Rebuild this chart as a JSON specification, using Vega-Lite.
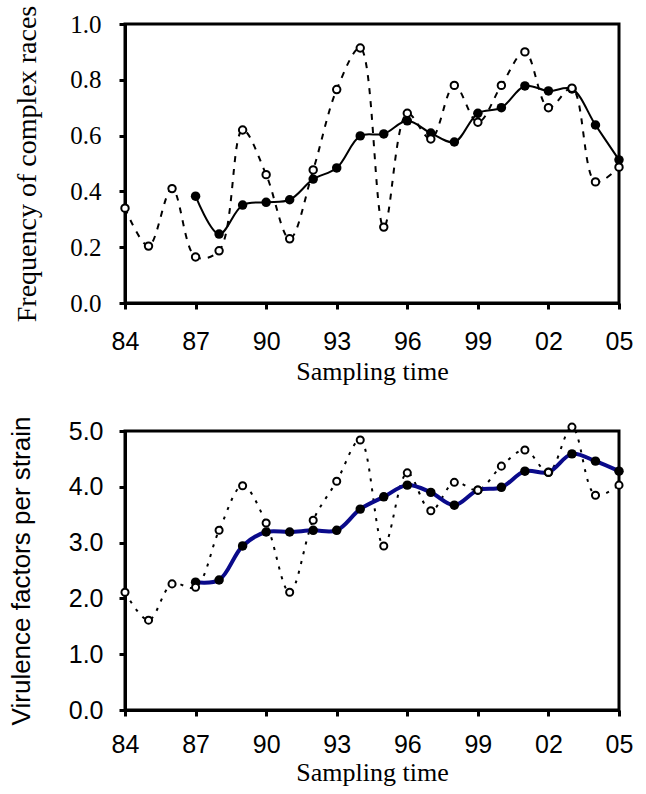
{
  "$schema": "https://vega.github.io/schema/vega-lite/v6.json",
  "padding": {"left": 6, "top": 3, "right": 5, "bottom": 5},
  "spacing": 28,
  "background": "white",
  "config": {
    "view": {"stroke": "black", "strokeWidth": 3},
    "axis": {
      "grid": false,
      "domainColor": "black",
      "domainWidth": 3,
      "tickColor": "black",
      "tickWidth": 3,
      "tickSize": 6,
      "labelColor": "black",
      "titleColor": "black",
      "labelFontSize": 25,
      "titleFontSize": 26,
      "titleFontWeight": "normal",
      "labelFlush": false,
      "labelOverlap": false
    }
  },
  "datasets": {
    "freq": [
      {"year": 1984, "series": "open", "value": 0.34},
      {"year": 1985, "series": "open", "value": 0.204},
      {"year": 1986, "series": "open", "value": 0.41},
      {"year": 1987, "series": "open", "value": 0.165},
      {"year": 1988, "series": "open", "value": 0.187},
      {"year": 1989, "series": "open", "value": 0.62},
      {"year": 1990, "series": "open", "value": 0.46},
      {"year": 1991, "series": "open", "value": 0.23},
      {"year": 1992, "series": "open", "value": 0.477},
      {"year": 1993, "series": "open", "value": 0.765},
      {"year": 1994, "series": "open", "value": 0.914},
      {"year": 1995, "series": "open", "value": 0.272},
      {"year": 1996, "series": "open", "value": 0.68},
      {"year": 1997, "series": "open", "value": 0.588},
      {"year": 1998, "series": "open", "value": 0.78},
      {"year": 1999, "series": "open", "value": 0.648},
      {"year": 2000, "series": "open", "value": 0.78},
      {"year": 2001, "series": "open", "value": 0.9},
      {"year": 2002, "series": "open", "value": 0.7},
      {"year": 2003, "series": "open", "value": 0.77},
      {"year": 2004, "series": "open", "value": 0.434},
      {"year": 2005, "series": "open", "value": 0.487},
      {"year": 1987, "series": "filled", "value": 0.383},
      {"year": 1988, "series": "filled", "value": 0.247},
      {"year": 1989, "series": "filled", "value": 0.351},
      {"year": 1990, "series": "filled", "value": 0.361},
      {"year": 1991, "series": "filled", "value": 0.37},
      {"year": 1992, "series": "filled", "value": 0.444},
      {"year": 1993, "series": "filled", "value": 0.484},
      {"year": 1994, "series": "filled", "value": 0.599},
      {"year": 1995, "series": "filled", "value": 0.606},
      {"year": 1996, "series": "filled", "value": 0.653},
      {"year": 1997, "series": "filled", "value": 0.609},
      {"year": 1998, "series": "filled", "value": 0.577},
      {"year": 1999, "series": "filled", "value": 0.68},
      {"year": 2000, "series": "filled", "value": 0.7},
      {"year": 2001, "series": "filled", "value": 0.778},
      {"year": 2002, "series": "filled", "value": 0.76},
      {"year": 2003, "series": "filled", "value": 0.767},
      {"year": 2004, "series": "filled", "value": 0.638},
      {"year": 2005, "series": "filled", "value": 0.513}
    ],
    "vir": [
      {"year": 1984, "series": "open", "value": 2.11},
      {"year": 1985, "series": "open", "value": 1.61},
      {"year": 1986, "series": "open", "value": 2.26},
      {"year": 1987, "series": "open", "value": 2.2},
      {"year": 1988, "series": "open", "value": 3.22},
      {"year": 1989, "series": "open", "value": 4.02},
      {"year": 1990, "series": "open", "value": 3.35},
      {"year": 1991, "series": "open", "value": 2.11},
      {"year": 1992, "series": "open", "value": 3.4},
      {"year": 1993, "series": "open", "value": 4.1},
      {"year": 1994, "series": "open", "value": 4.84},
      {"year": 1995, "series": "open", "value": 2.94},
      {"year": 1996, "series": "open", "value": 4.25},
      {"year": 1997, "series": "open", "value": 3.57},
      {"year": 1998, "series": "open", "value": 4.08},
      {"year": 1999, "series": "open", "value": 3.94},
      {"year": 2000, "series": "open", "value": 4.37},
      {"year": 2001, "series": "open", "value": 4.66},
      {"year": 2002, "series": "open", "value": 4.26},
      {"year": 2003, "series": "open", "value": 5.07},
      {"year": 2004, "series": "open", "value": 3.85},
      {"year": 2005, "series": "open", "value": 4.03},
      {"year": 1987, "series": "filled", "value": 2.29},
      {"year": 1988, "series": "filled", "value": 2.33},
      {"year": 1989, "series": "filled", "value": 2.94},
      {"year": 1990, "series": "filled", "value": 3.19},
      {"year": 1991, "series": "filled", "value": 3.19},
      {"year": 1992, "series": "filled", "value": 3.22},
      {"year": 1993, "series": "filled", "value": 3.22},
      {"year": 1994, "series": "filled", "value": 3.6},
      {"year": 1995, "series": "filled", "value": 3.82},
      {"year": 1996, "series": "filled", "value": 4.03},
      {"year": 1997, "series": "filled", "value": 3.9},
      {"year": 1998, "series": "filled", "value": 3.67},
      {"year": 1999, "series": "filled", "value": 3.94},
      {"year": 2000, "series": "filled", "value": 3.99},
      {"year": 2001, "series": "filled", "value": 4.28},
      {"year": 2002, "series": "filled", "value": 4.26},
      {"year": 2003, "series": "filled", "value": 4.59},
      {"year": 2004, "series": "filled", "value": 4.46},
      {"year": 2005, "series": "filled", "value": 4.28}
    ]
  },
  "vconcat": [
    {
      "width": 494,
      "height": 279,
      "data": {"name": "freq"},
      "encoding": {
        "x": {
          "field": "year", "type": "quantitative",
          "scale": {"domain": [1984, 2005], "nice": false, "zero": false},
          "axis": {
            "values": [1984, 1987, 1990, 1993, 1996, 1999, 2002, 2005],
            "labelExpr": "substring(toString(datum.value), 2, 4)",
            "title": "Sampling time",
            "labelFont": "Liberation Sans",
            "titleFont": "Liberation Serif",
            "labelPadding": 20,
            "titlePadding": 4
          }
        },
        "y": {
          "field": "value", "type": "quantitative",
          "scale": {"domain": [0, 1], "nice": false},
          "axis": {
            "values": [0, 0.2, 0.4, 0.6, 0.8, 1.0],
            "format": ".1f",
            "title": "Frequency of complex races",
            "labelFont": "Liberation Serif",
            "titleFont": "Liberation Serif",
            "titleFontSize": 28,
            "labelPadding": 18,
            "titlePadding": 28
          }
        }
      },
      "layer": [
        {"transform": [{"filter": "datum.series === 'open'"}],
         "mark": {"type": "line", "interpolate": "catmull-rom", "color": "black", "strokeWidth": 2, "strokeDash": [6, 7]}},
        {"transform": [{"filter": "datum.series === 'filled'"}],
         "mark": {"type": "line", "interpolate": "catmull-rom", "color": "black", "strokeWidth": 2}},
        {"transform": [{"filter": "datum.series === 'filled'"}],
         "mark": {"type": "point", "shape": "circle", "filled": true, "color": "black", "size": 90, "opacity": 1}},
        {"transform": [{"filter": "datum.series === 'open'"}],
         "mark": {"type": "point", "shape": "circle", "fill": "white", "stroke": "black", "strokeWidth": 2, "size": 55, "opacity": 1}}
      ]
    },
    {
      "width": 494,
      "height": 279,
      "data": {"name": "vir"},
      "encoding": {
        "x": {
          "field": "year", "type": "quantitative",
          "scale": {"domain": [1984, 2005], "nice": false, "zero": false},
          "axis": {
            "values": [1984, 1987, 1990, 1993, 1996, 1999, 2002, 2005],
            "labelExpr": "substring(toString(datum.value), 2, 4)",
            "title": "Sampling time",
            "labelFont": "Liberation Sans",
            "titleFont": "Liberation Serif",
            "labelPadding": 16,
            "titlePadding": 2
          }
        },
        "y": {
          "field": "value", "type": "quantitative",
          "scale": {"domain": [0, 5], "nice": false},
          "axis": {
            "values": [0, 1, 2, 3, 4, 5],
            "format": ".1f",
            "title": "Virulence factors per strain",
            "labelFont": "Liberation Sans",
            "titleFont": "Liberation Sans",
            "titleFontSize": 26,
            "labelPadding": 16,
            "titlePadding": 34
          }
        }
      },
      "layer": [
        {"transform": [{"filter": "datum.series === 'open'"}],
         "mark": {"type": "line", "interpolate": "catmull-rom", "color": "black", "strokeWidth": 2, "strokeDash": [3, 7]}},
        {"transform": [{"filter": "datum.series === 'filled'"}],
         "mark": {"type": "line", "interpolate": "catmull-rom", "color": "#0a0a8a", "strokeWidth": 4}},
        {"transform": [{"filter": "datum.series === 'filled'"}],
         "mark": {"type": "point", "shape": "circle", "filled": true, "color": "black", "size": 90, "opacity": 1}},
        {"transform": [{"filter": "datum.series === 'open'"}],
         "mark": {"type": "point", "shape": "circle", "fill": "white", "stroke": "black", "strokeWidth": 2, "size": 50, "opacity": 1}}
      ]
    }
  ]
}
